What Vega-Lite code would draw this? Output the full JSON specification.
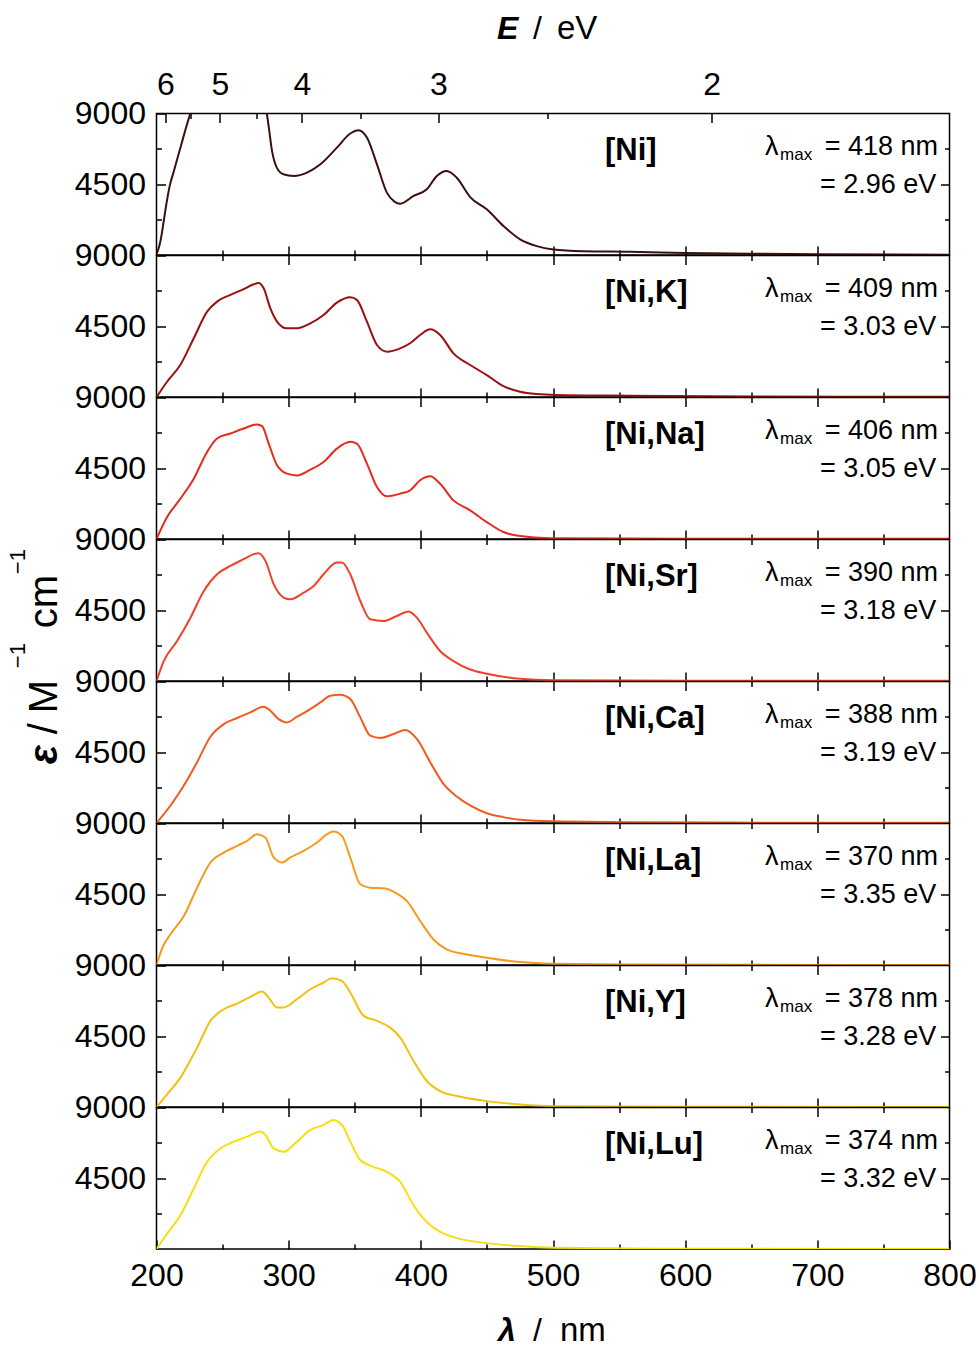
{
"$schema": "https://vega.github.io/schema/vega-lite/v6.json",
"background": "white",
"padding": {"left": 5.5, "top": 12.5, "right": 4, "bottom": 16},
"spacing": 0,
"bounds": "flush",
"config": {"font": "Liberation Sans", "view": {"stroke": "black", "strokeWidth": 1.5}, "text": {"color": "black", "font": "Liberation Sans"}, "line": {"interpolate": "monotone", "strokeWidth": 2, "clip": true}, "axis": {"labelFont": "Liberation Sans", "labelColor": "black", "labelFontSize": 32, "domain": false, "grid": false, "title": null, "tickColor": "black", "tickWidth": 1.5, "format": "d"}},
"datasets": {
"labels": [
{"s": "[Ni]", "lmax": "= 418 nm", "ev": "= 2.96 eV"},
{"s": "[Ni,K]", "lmax": "= 409 nm", "ev": "= 3.03 eV"},
{"s": "[Ni,Na]", "lmax": "= 406 nm", "ev": "= 3.05 eV"},
{"s": "[Ni,Sr]", "lmax": "= 390 nm", "ev": "= 3.18 eV"},
{"s": "[Ni,Ca]", "lmax": "= 388 nm", "ev": "= 3.19 eV"},
{"s": "[Ni,La]", "lmax": "= 370 nm", "ev": "= 3.35 eV"},
{"s": "[Ni,Y]", "lmax": "= 378 nm", "ev": "= 3.28 eV"},
{"s": "[Ni,Lu]", "lmax": "= 374 nm", "ev": "= 3.32 eV"}
],
"spectra": [
{"s":"[Ni]","wl":200,"eps":50},{"s":"[Ni]","wl":201.5,"eps":400},{"s":"[Ni]","wl":203,"eps":900},{"s":"[Ni]","wl":205,"eps":1900},{"s":"[Ni]","wl":207,"eps":3000},{"s":"[Ni]","wl":210,"eps":4400},{"s":"[Ni]","wl":213,"eps":5300},{"s":"[Ni]","wl":216,"eps":6200},{"s":"[Ni]","wl":219,"eps":7100},{"s":"[Ni]","wl":222,"eps":8000},{"s":"[Ni]","wl":225.5,"eps":9000},{"s":"[Ni]","wl":230,"eps":10500},{"s":"[Ni]","wl":240,"eps":12500},{"s":"[Ni]","wl":255,"eps":14000},{"s":"[Ni]","wl":270,"eps":13000},{"s":"[Ni]","wl":280,"eps":11000},{"s":"[Ni]","wl":283.5,"eps":9000},{"s":"[Ni]","wl":285,"eps":8100},{"s":"[Ni]","wl":287.4,"eps":6620},{"s":"[Ni]","wl":291,"eps":5560},{"s":"[Ni]","wl":296,"eps":5140},{"s":"[Ni]","wl":303.8,"eps":5030},{"s":"[Ni]","wl":313.9,"eps":5240},{"s":"[Ni]","wl":324,"eps":5770},{"s":"[Ni]","wl":336.5,"eps":6830},{"s":"[Ni]","wl":346.6,"eps":7730},{"s":"[Ni]","wl":352.9,"eps":7940},{"s":"[Ni]","wl":359.2,"eps":7470},{"s":"[Ni]","wl":366.8,"eps":5770},{"s":"[Ni]","wl":374.3,"eps":3970},{"s":"[Ni]","wl":380,"eps":3400},{"s":"[Ni]","wl":384.4,"eps":3270},{"s":"[Ni]","wl":394.5,"eps":3760},{"s":"[Ni]","wl":404.5,"eps":4180},{"s":"[Ni]","wl":412.1,"eps":5030},{"s":"[Ni]","wl":419.6,"eps":5350},{"s":"[Ni]","wl":427.2,"eps":4920},{"s":"[Ni]","wl":437.3,"eps":3690},{"s":"[Ni]","wl":449.9,"eps":2910},{"s":"[Ni]","wl":462.5,"eps":1850},{"s":"[Ni]","wl":475.1,"eps":1000},{"s":"[Ni]","wl":487.7,"eps":570},{"s":"[Ni]","wl":500.3,"eps":360},{"s":"[Ni]","wl":523,"eps":250},{"s":"[Ni]","wl":558,"eps":210},{"s":"[Ni]","wl":600,"eps":140},{"s":"[Ni]","wl":650,"eps":90},{"s":"[Ni]","wl":700,"eps":60},{"s":"[Ni]","wl":800,"eps":30},
{"s":"[Ni,K]","wl":200,"eps":0},{"s":"[Ni,K]","wl":208,"eps":976},{"s":"[Ni,K]","wl":218,"eps":2040},{"s":"[Ni,K]","wl":228.2,"eps":3740},{"s":"[Ni,K]","wl":238.3,"eps":5430},{"s":"[Ni,K]","wl":245.8,"eps":6070},{"s":"[Ni,K]","wl":255.9,"eps":6500},{"s":"[Ni,K]","wl":266,"eps":6860},{"s":"[Ni,K]","wl":273.6,"eps":7170},{"s":"[Ni,K]","wl":277.3,"eps":7260},{"s":"[Ni,K]","wl":281.1,"eps":6920},{"s":"[Ni,K]","wl":286.1,"eps":5650},{"s":"[Ni,K]","wl":291.2,"eps":4800},{"s":"[Ni,K]","wl":298.7,"eps":4370},{"s":"[Ni,K]","wl":306.3,"eps":4370},{"s":"[Ni,K]","wl":316.4,"eps":4690},{"s":"[Ni,K]","wl":326.4,"eps":5220},{"s":"[Ni,K]","wl":336.5,"eps":6010},{"s":"[Ni,K]","wl":346.6,"eps":6350},{"s":"[Ni,K]","wl":351.6,"eps":6180},{"s":"[Ni,K]","wl":359.2,"eps":4800},{"s":"[Ni,K]","wl":366.8,"eps":3310},{"s":"[Ni,K]","wl":374.3,"eps":2890},{"s":"[Ni,K]","wl":384.4,"eps":3100},{"s":"[Ni,K]","wl":391.9,"eps":3420},{"s":"[Ni,K]","wl":399.5,"eps":3950},{"s":"[Ni,K]","wl":407.1,"eps":4310},{"s":"[Ni,K]","wl":414.6,"eps":3950},{"s":"[Ni,K]","wl":424.7,"eps":2780},{"s":"[Ni,K]","wl":437.3,"eps":2040},{"s":"[Ni,K]","wl":449.9,"eps":1400},{"s":"[Ni,K]","wl":462.5,"eps":700},{"s":"[Ni,K]","wl":475.1,"eps":340},{"s":"[Ni,K]","wl":487.7,"eps":190},{"s":"[Ni,K]","wl":502.8,"eps":130},{"s":"[Ni,K]","wl":558,"eps":85},{"s":"[Ni,K]","wl":650,"eps":40},{"s":"[Ni,K]","wl":800,"eps":25},
{"s":"[Ni,Na]","wl":200,"eps":0},{"s":"[Ni,Na]","wl":208,"eps":1400},{"s":"[Ni,Na]","wl":218.1,"eps":2570},{"s":"[Ni,Na]","wl":228.2,"eps":3840},{"s":"[Ni,Na]","wl":238.3,"eps":5540},{"s":"[Ni,Na]","wl":245.8,"eps":6390},{"s":"[Ni,Na]","wl":255.9,"eps":6710},{"s":"[Ni,Na]","wl":266,"eps":7030},{"s":"[Ni,Na]","wl":276.1,"eps":7290},{"s":"[Ni,Na]","wl":279.9,"eps":7180},{"s":"[Ni,Na]","wl":284.9,"eps":6070},{"s":"[Ni,Na]","wl":291.2,"eps":4690},{"s":"[Ni,Na]","wl":298.7,"eps":4160},{"s":"[Ni,Na]","wl":306.3,"eps":4050},{"s":"[Ni,Na]","wl":316.4,"eps":4410},{"s":"[Ni,Na]","wl":326.4,"eps":4900},{"s":"[Ni,Na]","wl":336.5,"eps":5750},{"s":"[Ni,Na]","wl":346.6,"eps":6180},{"s":"[Ni,Na]","wl":351.6,"eps":6070},{"s":"[Ni,Na]","wl":359.2,"eps":4800},{"s":"[Ni,Na]","wl":366.8,"eps":3310},{"s":"[Ni,Na]","wl":374.3,"eps":2720},{"s":"[Ni,Na]","wl":384.4,"eps":2890},{"s":"[Ni,Na]","wl":391.9,"eps":3100},{"s":"[Ni,Na]","wl":399.5,"eps":3740},{"s":"[Ni,Na]","wl":407.1,"eps":3990},{"s":"[Ni,Na]","wl":414.6,"eps":3520},{"s":"[Ni,Na]","wl":424.7,"eps":2460},{"s":"[Ni,Na]","wl":437.3,"eps":1830},{"s":"[Ni,Na]","wl":449.9,"eps":1080},{"s":"[Ni,Na]","wl":462.5,"eps":450},{"s":"[Ni,Na]","wl":475.1,"eps":190},{"s":"[Ni,Na]","wl":497.7,"eps":60},{"s":"[Ni,Na]","wl":600,"eps":30},{"s":"[Ni,Na]","wl":800,"eps":20},
{"s":"[Ni,Sr]","wl":200,"eps":0},{"s":"[Ni,Sr]","wl":205.5,"eps":1270},{"s":"[Ni,Sr]","wl":215.6,"eps":2550},{"s":"[Ni,Sr]","wl":225.7,"eps":4030},{"s":"[Ni,Sr]","wl":235.8,"eps":5730},{"s":"[Ni,Sr]","wl":245.8,"eps":6790},{"s":"[Ni,Sr]","wl":255.9,"eps":7320},{"s":"[Ni,Sr]","wl":266,"eps":7750},{"s":"[Ni,Sr]","wl":273.6,"eps":8070},{"s":"[Ni,Sr]","wl":277.3,"eps":8130},{"s":"[Ni,Sr]","wl":282.4,"eps":7640},{"s":"[Ni,Sr]","wl":288.7,"eps":6160},{"s":"[Ni,Sr]","wl":296.2,"eps":5310},{"s":"[Ni,Sr]","wl":301.3,"eps":5200},{"s":"[Ni,Sr]","wl":311.3,"eps":5620},{"s":"[Ni,Sr]","wl":318.9,"eps":6050},{"s":"[Ni,Sr]","wl":326.4,"eps":6790},{"s":"[Ni,Sr]","wl":336.5,"eps":7540},{"s":"[Ni,Sr]","wl":340.3,"eps":7540},{"s":"[Ni,Sr]","wl":346.6,"eps":6790},{"s":"[Ni,Sr]","wl":354.2,"eps":5090},{"s":"[Ni,Sr]","wl":361.7,"eps":3930},{"s":"[Ni,Sr]","wl":371.8,"eps":3820},{"s":"[Ni,Sr]","wl":381.9,"eps":4140},{"s":"[Ni,Sr]","wl":390.7,"eps":4420},{"s":"[Ni,Sr]","wl":397,"eps":4030},{"s":"[Ni,Sr]","wl":404.5,"eps":3080},{"s":"[Ni,Sr]","wl":414.6,"eps":1910},{"s":"[Ni,Sr]","wl":424.7,"eps":1270},{"s":"[Ni,Sr]","wl":437.3,"eps":740},{"s":"[Ni,Sr]","wl":449.9,"eps":470},{"s":"[Ni,Sr]","wl":475.1,"eps":150},{"s":"[Ni,Sr]","wl":500.3,"eps":60},{"s":"[Ni,Sr]","wl":600,"eps":25},{"s":"[Ni,Sr]","wl":800,"eps":15},
{"s":"[Ni,Ca]","wl":200,"eps":0},{"s":"[Ni,Ca]","wl":210.6,"eps":1120},{"s":"[Ni,Ca]","wl":220.7,"eps":2390},{"s":"[Ni,Ca]","wl":230.7,"eps":3870},{"s":"[Ni,Ca]","wl":240.8,"eps":5490},{"s":"[Ni,Ca]","wl":250.9,"eps":6290},{"s":"[Ni,Ca]","wl":261,"eps":6680},{"s":"[Ni,Ca]","wl":271,"eps":7040},{"s":"[Ni,Ca]","wl":281.1,"eps":7390},{"s":"[Ni,Ca]","wl":286.1,"eps":7140},{"s":"[Ni,Ca]","wl":292.4,"eps":6610},{"s":"[Ni,Ca]","wl":298.7,"eps":6400},{"s":"[Ni,Ca]","wl":306.3,"eps":6760},{"s":"[Ni,Ca]","wl":316.4,"eps":7250},{"s":"[Ni,Ca]","wl":324,"eps":7670},{"s":"[Ni,Ca]","wl":331.5,"eps":8090},{"s":"[Ni,Ca]","wl":339,"eps":8160},{"s":"[Ni,Ca]","wl":346.6,"eps":7880},{"s":"[Ni,Ca]","wl":354.2,"eps":6720},{"s":"[Ni,Ca]","wl":361.7,"eps":5560},{"s":"[Ni,Ca]","wl":369.3,"eps":5410},{"s":"[Ni,Ca]","wl":379.3,"eps":5660},{"s":"[Ni,Ca]","wl":388.2,"eps":5920},{"s":"[Ni,Ca]","wl":397,"eps":5350},{"s":"[Ni,Ca]","wl":407.1,"eps":3870},{"s":"[Ni,Ca]","wl":417.1,"eps":2490},{"s":"[Ni,Ca]","wl":427.2,"eps":1690},{"s":"[Ni,Ca]","wl":437.3,"eps":1120},{"s":"[Ni,Ca]","wl":449.9,"eps":630},{"s":"[Ni,Ca]","wl":462.5,"eps":380},{"s":"[Ni,Ca]","wl":475.1,"eps":210},{"s":"[Ni,Ca]","wl":500.3,"eps":110},{"s":"[Ni,Ca]","wl":558,"eps":60},{"s":"[Ni,Ca]","wl":650,"eps":30},{"s":"[Ni,Ca]","wl":800,"eps":15},
{"s":"[Ni,La]","wl":200,"eps":0},{"s":"[Ni,La]","wl":205,"eps":1200},{"s":"[Ni,La]","wl":210.6,"eps":1960},{"s":"[Ni,La]","wl":220.7,"eps":3120},{"s":"[Ni,La]","wl":230.7,"eps":4920},{"s":"[Ni,La]","wl":240.8,"eps":6520},{"s":"[Ni,La]","wl":250.9,"eps":7150},{"s":"[Ni,La]","wl":261,"eps":7580},{"s":"[Ni,La]","wl":268.5,"eps":7900},{"s":"[Ni,La]","wl":276.1,"eps":8320},{"s":"[Ni,La]","wl":282.4,"eps":8110},{"s":"[Ni,La]","wl":288.7,"eps":6840},{"s":"[Ni,La]","wl":295,"eps":6520},{"s":"[Ni,La]","wl":301.3,"eps":6840},{"s":"[Ni,La]","wl":311.3,"eps":7260},{"s":"[Ni,La]","wl":321.4,"eps":7790},{"s":"[Ni,La]","wl":329,"eps":8320},{"s":"[Ni,La]","wl":334,"eps":8490},{"s":"[Ni,La]","wl":340.3,"eps":8210},{"s":"[Ni,La]","wl":346.6,"eps":6840},{"s":"[Ni,La]","wl":354.2,"eps":5140},{"s":"[Ni,La]","wl":361.7,"eps":4920},{"s":"[Ni,La]","wl":371.8,"eps":4880},{"s":"[Ni,La]","wl":381.9,"eps":4540},{"s":"[Ni,La]","wl":389.4,"eps":4080},{"s":"[Ni,La]","wl":399.5,"eps":2800},{"s":"[Ni,La]","wl":409.6,"eps":1630},{"s":"[Ni,La]","wl":419.6,"eps":1000},{"s":"[Ni,La]","wl":432.2,"eps":720},{"s":"[Ni,La]","wl":449.9,"eps":470},{"s":"[Ni,La]","wl":475.1,"eps":190},{"s":"[Ni,La]","wl":500.3,"eps":85},{"s":"[Ni,La]","wl":558,"eps":40},{"s":"[Ni,La]","wl":650,"eps":20},{"s":"[Ni,La]","wl":800,"eps":10},
{"s":"[Ni,Y]","wl":200,"eps":0},{"s":"[Ni,Y]","wl":208,"eps":810},{"s":"[Ni,Y]","wl":218.1,"eps":1870},{"s":"[Ni,Y]","wl":230.7,"eps":3780},{"s":"[Ni,Y]","wl":240.8,"eps":5480},{"s":"[Ni,Y]","wl":250.9,"eps":6220},{"s":"[Ni,Y]","wl":261,"eps":6580},{"s":"[Ni,Y]","wl":271,"eps":7000},{"s":"[Ni,Y]","wl":279.8,"eps":7340},{"s":"[Ni,Y]","wl":284.9,"eps":6960},{"s":"[Ni,Y]","wl":291.2,"eps":6330},{"s":"[Ni,Y]","wl":296.2,"eps":6330},{"s":"[Ni,Y]","wl":306.3,"eps":6860},{"s":"[Ni,Y]","wl":316.4,"eps":7490},{"s":"[Ni,Y]","wl":326.4,"eps":7920},{"s":"[Ni,Y]","wl":332.7,"eps":8190},{"s":"[Ni,Y]","wl":340.3,"eps":8020},{"s":"[Ni,Y]","wl":346.6,"eps":7280},{"s":"[Ni,Y]","wl":356.7,"eps":5800},{"s":"[Ni,Y]","wl":366.8,"eps":5480},{"s":"[Ni,Y]","wl":376.8,"eps":5050},{"s":"[Ni,Y]","wl":384.4,"eps":4420},{"s":"[Ni,Y]","wl":394.5,"eps":2930},{"s":"[Ni,Y]","wl":404.5,"eps":1660},{"s":"[Ni,Y]","wl":414.6,"eps":1020},{"s":"[Ni,Y]","wl":427.2,"eps":700},{"s":"[Ni,Y]","wl":449.9,"eps":380},{"s":"[Ni,Y]","wl":475.1,"eps":170},{"s":"[Ni,Y]","wl":500.3,"eps":60},{"s":"[Ni,Y]","wl":600,"eps":25},{"s":"[Ni,Y]","wl":800,"eps":10},
{"s":"[Ni,Lu]","wl":200,"eps":0},{"s":"[Ni,Lu]","wl":208,"eps":980},{"s":"[Ni,Lu]","wl":218.1,"eps":2150},{"s":"[Ni,Lu]","wl":228.2,"eps":3850},{"s":"[Ni,Lu]","wl":238.3,"eps":5550},{"s":"[Ni,Lu]","wl":248.4,"eps":6400},{"s":"[Ni,Lu]","wl":258.4,"eps":6830},{"s":"[Ni,Lu]","wl":268.5,"eps":7150},{"s":"[Ni,Lu]","wl":278.6,"eps":7470},{"s":"[Ni,Lu]","wl":282.4,"eps":7250},{"s":"[Ni,Lu]","wl":288.7,"eps":6400},{"s":"[Ni,Lu]","wl":296.2,"eps":6190},{"s":"[Ni,Lu]","wl":306.3,"eps":6830},{"s":"[Ni,Lu]","wl":316.4,"eps":7580},{"s":"[Ni,Lu]","wl":326.4,"eps":7890},{"s":"[Ni,Lu]","wl":333.5,"eps":8210},{"s":"[Ni,Lu]","wl":340.3,"eps":7890},{"s":"[Ni,Lu]","wl":346.6,"eps":6830},{"s":"[Ni,Lu]","wl":354.2,"eps":5660},{"s":"[Ni,Lu]","wl":364.2,"eps":5230},{"s":"[Ni,Lu]","wl":374.3,"eps":4910},{"s":"[Ni,Lu]","wl":384.4,"eps":4270},{"s":"[Ni,Lu]","wl":394.5,"eps":2790},{"s":"[Ni,Lu]","wl":404.5,"eps":1720},{"s":"[Ni,Lu]","wl":414.6,"eps":1090},{"s":"[Ni,Lu]","wl":427.2,"eps":700},{"s":"[Ni,Lu]","wl":449.9,"eps":380},{"s":"[Ni,Lu]","wl":475.1,"eps":190},{"s":"[Ni,Lu]","wl":500.3,"eps":85},{"s":"[Ni,Lu]","wl":600,"eps":25},{"s":"[Ni,Lu]","wl":800,"eps":10}
]
},
"vconcat": [
{"width": 793, "height": 141.6, "resolve": {"axis": {"x": "independent", "y": "independent"}}, "layer": [
 {"data": {"name": "spectra"}, "transform": [{"filter": {"field": "s", "equal": "[Ni]"}}], "mark": {"type": "line", "clip": true, "color": "#3d0f0f"},
  "encoding": {"x": {"field": "wl", "type": "quantitative", "scale": {"domain": [200, 800], "nice": false}, "axis": {"orient": "bottom", "values": [300,400,500,600,700], "tickSize": -9, "labels": false}},
   "y": {"field": "eps", "type": "quantitative", "scale": {"domain": [0, 9000], "nice": false}, "axis": {"orient": "left", "values": [4500, 9000], "tickSize": -9, "labelPadding": 20, "labelFlush": false, "labelOverlap": false}}}},
 {"data": {"name": "labels"}, "transform": [{"filter": {"field": "s", "equal": "[Ni]"}}], "mark": {"type": "text", "align": "left", "baseline": "alphabetic", "fontSize": 31, "fontWeight": "bold"},
  "encoding": {"x": {"datum": 539.3, "type": "quantitative", "axis": {"orient": "bottom", "values": [250,350,450,550,650,750], "tickSize": -5, "labels": false}},
   "y": {"datum": 6013, "type": "quantitative", "axis": {"orient": "left", "values": [2250, 6750], "tickSize": -5, "labels": false}}, "text": {"field": "s"}}},
 {"data": {"name": "labels"}, "transform": [{"filter": {"field": "s", "equal": "[Ni]"}}], "mark": {"type": "text", "align": "right", "baseline": "alphabetic", "fontSize": 27},
  "encoding": {"x": {"datum": 791.3, "type": "quantitative", "axis": {"orient": "top", "values": [206.667, 248, 310, 413.333, 620], "tickSize": -9, "labelExpr": "format(1240/datum.value, '.0f')", "labelPadding": 21, "labelFlush": false, "labelOverlap": false}},
   "y": {"datum": 6394, "type": "quantitative", "axis": {"orient": "right", "values": [4500], "tickSize": -9, "labels": false}}, "text": {"field": "lmax"}}},
 {"data": {"name": "labels"}, "transform": [{"filter": {"field": "s", "equal": "[Ni]"}}], "mark": {"type": "text", "align": "right", "baseline": "alphabetic", "fontSize": 27},
  "encoding": {"x": {"datum": 790, "type": "quantitative", "axis": {"orient": "top", "values": [225.455, 275.556, 354.286, 496], "tickSize": -5, "labels": false}},
   "y": {"datum": 3947, "type": "quantitative", "axis": {"orient": "right", "values": [2250, 6750], "tickSize": -5, "labels": false}}, "text": {"field": "ev"}}},
 {"data": {"name": "labels"}, "transform": [{"filter": {"field": "s", "equal": "[Ni]"}}], "mark": {"type": "text", "text": "λ", "align": "left", "baseline": "alphabetic", "fontSize": 27},
  "encoding": {"x": {"datum": 660.4, "type": "quantitative", "axis": null}, "y": {"datum": 6394, "type": "quantitative", "axis": null}}},
 {"data": {"name": "labels"}, "transform": [{"filter": {"field": "s", "equal": "[Ni]"}}], "mark": {"type": "text", "text": "max", "align": "left", "baseline": "alphabetic", "fontSize": 17},
  "encoding": {"x": {"datum": 671.8, "type": "quantitative", "axis": null}, "y": {"datum": 6013, "type": "quantitative", "axis": null}}},
 {"data": {"name": "labels"}, "transform": [{"filter": {"field": "s", "equal": "[Ni]"}}], "mark": {"type": "text", "text": "E", "align": "left", "baseline": "alphabetic", "fontSize": 32, "fontWeight": "bold", "fontStyle": "italic"},
  "encoding": {"x": {"datum": 457.6, "type": "quantitative", "axis": null}, "y": {"datum": 13716, "type": "quantitative", "axis": null}}},
 {"data": {"name": "labels"}, "transform": [{"filter": {"field": "s", "equal": "[Ni]"}}], "mark": {"type": "text", "text": "/", "align": "left", "baseline": "alphabetic", "fontSize": 32},
  "encoding": {"x": {"datum": 484.9, "type": "quantitative", "axis": null}, "y": {"datum": 13716, "type": "quantitative", "axis": null}}},
 {"data": {"name": "labels"}, "transform": [{"filter": {"field": "s", "equal": "[Ni]"}}], "mark": {"type": "text", "text": "eV", "align": "left", "baseline": "alphabetic", "fontSize": 33},
  "encoding": {"x": {"datum": 503.0, "type": "quantitative", "axis": null}, "y": {"datum": 13716, "type": "quantitative", "axis": null}}}
]},
{"width": 793, "height": 141.6, "resolve": {"axis": {"x": "independent", "y": "independent"}}, "layer": [
 {"data": {"name": "spectra"}, "transform": [{"filter": {"field": "s", "equal": "[Ni,K]"}}], "mark": {"type": "line", "clip": true, "color": "#9a0f0f"},
  "encoding": {"x": {"field": "wl", "type": "quantitative", "scale": {"domain": [200, 800], "nice": false}, "axis": {"orient": "bottom", "values": [300,400,500,600,700], "tickSize": -9, "labels": false}},
   "y": {"field": "eps", "type": "quantitative", "scale": {"domain": [0, 9000], "nice": false}, "axis": {"orient": "left", "values": [4500, 9000], "tickSize": -9, "labelPadding": 20, "labelFlush": false, "labelOverlap": false}}}},
 {"data": {"name": "labels"}, "transform": [{"filter": {"field": "s", "equal": "[Ni,K]"}}], "mark": {"type": "text", "align": "left", "baseline": "alphabetic", "fontSize": 31, "fontWeight": "bold"},
  "encoding": {"x": {"datum": 539.3, "type": "quantitative", "axis": {"orient": "bottom", "values": [250,350,450,550,650,750], "tickSize": -5, "labels": false}},
   "y": {"datum": 6013, "type": "quantitative", "axis": {"orient": "left", "values": [2250, 6750], "tickSize": -5, "labels": false}}, "text": {"field": "s"}}},
 {"data": {"name": "labels"}, "transform": [{"filter": {"field": "s", "equal": "[Ni,K]"}}], "mark": {"type": "text", "align": "right", "baseline": "alphabetic", "fontSize": 27},
  "encoding": {"x": {"datum": 791.3, "type": "quantitative", "axis": {"orient": "top", "values": [300,400,500,600,700], "tickSize": -9, "labels": false}},
   "y": {"datum": 6394, "type": "quantitative", "axis": {"orient": "right", "values": [4500], "tickSize": -9, "labels": false}}, "text": {"field": "lmax"}}},
 {"data": {"name": "labels"}, "transform": [{"filter": {"field": "s", "equal": "[Ni,K]"}}], "mark": {"type": "text", "align": "right", "baseline": "alphabetic", "fontSize": 27},
  "encoding": {"x": {"datum": 790, "type": "quantitative", "axis": {"orient": "top", "values": [250,350,450,550,650,750], "tickSize": -5, "labels": false}},
   "y": {"datum": 3947, "type": "quantitative", "axis": {"orient": "right", "values": [2250, 6750], "tickSize": -5, "labels": false}}, "text": {"field": "ev"}}},
 {"data": {"name": "labels"}, "transform": [{"filter": {"field": "s", "equal": "[Ni,K]"}}], "mark": {"type": "text", "text": "λ", "align": "left", "baseline": "alphabetic", "fontSize": 27},
  "encoding": {"x": {"datum": 660.4, "type": "quantitative", "axis": null}, "y": {"datum": 6394, "type": "quantitative", "axis": null}}},
 {"data": {"name": "labels"}, "transform": [{"filter": {"field": "s", "equal": "[Ni,K]"}}], "mark": {"type": "text", "text": "max", "align": "left", "baseline": "alphabetic", "fontSize": 17},
  "encoding": {"x": {"datum": 671.8, "type": "quantitative", "axis": null}, "y": {"datum": 6013, "type": "quantitative", "axis": null}}}
]},
{"width": 793, "height": 141.6, "resolve": {"axis": {"x": "independent", "y": "independent"}}, "layer": [
 {"data": {"name": "spectra"}, "transform": [{"filter": {"field": "s", "equal": "[Ni,Na]"}}], "mark": {"type": "line", "clip": true, "color": "#e62a1c"},
  "encoding": {"x": {"field": "wl", "type": "quantitative", "scale": {"domain": [200, 800], "nice": false}, "axis": {"orient": "bottom", "values": [300,400,500,600,700], "tickSize": -9, "labels": false}},
   "y": {"field": "eps", "type": "quantitative", "scale": {"domain": [0, 9000], "nice": false}, "axis": {"orient": "left", "values": [4500, 9000], "tickSize": -9, "labelPadding": 20, "labelFlush": false, "labelOverlap": false}}}},
 {"data": {"name": "labels"}, "transform": [{"filter": {"field": "s", "equal": "[Ni,Na]"}}], "mark": {"type": "text", "align": "left", "baseline": "alphabetic", "fontSize": 31, "fontWeight": "bold"},
  "encoding": {"x": {"datum": 539.3, "type": "quantitative", "axis": {"orient": "bottom", "values": [250,350,450,550,650,750], "tickSize": -5, "labels": false}},
   "y": {"datum": 6013, "type": "quantitative", "axis": {"orient": "left", "values": [2250, 6750], "tickSize": -5, "labels": false}}, "text": {"field": "s"}}},
 {"data": {"name": "labels"}, "transform": [{"filter": {"field": "s", "equal": "[Ni,Na]"}}], "mark": {"type": "text", "align": "right", "baseline": "alphabetic", "fontSize": 27},
  "encoding": {"x": {"datum": 791.3, "type": "quantitative", "axis": {"orient": "top", "values": [300,400,500,600,700], "tickSize": -9, "labels": false}},
   "y": {"datum": 6394, "type": "quantitative", "axis": {"orient": "right", "values": [4500], "tickSize": -9, "labels": false}}, "text": {"field": "lmax"}}},
 {"data": {"name": "labels"}, "transform": [{"filter": {"field": "s", "equal": "[Ni,Na]"}}], "mark": {"type": "text", "align": "right", "baseline": "alphabetic", "fontSize": 27},
  "encoding": {"x": {"datum": 790, "type": "quantitative", "axis": {"orient": "top", "values": [250,350,450,550,650,750], "tickSize": -5, "labels": false}},
   "y": {"datum": 3947, "type": "quantitative", "axis": {"orient": "right", "values": [2250, 6750], "tickSize": -5, "labels": false}}, "text": {"field": "ev"}}},
 {"data": {"name": "labels"}, "transform": [{"filter": {"field": "s", "equal": "[Ni,Na]"}}], "mark": {"type": "text", "text": "λ", "align": "left", "baseline": "alphabetic", "fontSize": 27},
  "encoding": {"x": {"datum": 660.4, "type": "quantitative", "axis": null}, "y": {"datum": 6394, "type": "quantitative", "axis": null}}},
 {"data": {"name": "labels"}, "transform": [{"filter": {"field": "s", "equal": "[Ni,Na]"}}], "mark": {"type": "text", "text": "max", "align": "left", "baseline": "alphabetic", "fontSize": 17},
  "encoding": {"x": {"datum": 671.8, "type": "quantitative", "axis": null}, "y": {"datum": 6013, "type": "quantitative", "axis": null}}}
]},
{"width": 793, "height": 141.6, "resolve": {"axis": {"x": "independent", "y": "independent"}}, "layer": [
 {"data": {"name": "spectra"}, "transform": [{"filter": {"field": "s", "equal": "[Ni,Sr]"}}], "mark": {"type": "line", "clip": true, "color": "#f43f2a"},
  "encoding": {"x": {"field": "wl", "type": "quantitative", "scale": {"domain": [200, 800], "nice": false}, "axis": {"orient": "bottom", "values": [300,400,500,600,700], "tickSize": -9, "labels": false}},
   "y": {"field": "eps", "type": "quantitative", "scale": {"domain": [0, 9000], "nice": false}, "axis": {"orient": "left", "values": [4500, 9000], "tickSize": -9, "labelPadding": 20, "labelFlush": false, "labelOverlap": false}}}},
 {"data": {"name": "labels"}, "transform": [{"filter": {"field": "s", "equal": "[Ni,Sr]"}}], "mark": {"type": "text", "align": "left", "baseline": "alphabetic", "fontSize": 31, "fontWeight": "bold"},
  "encoding": {"x": {"datum": 539.3, "type": "quantitative", "axis": {"orient": "bottom", "values": [250,350,450,550,650,750], "tickSize": -5, "labels": false}},
   "y": {"datum": 6013, "type": "quantitative", "axis": {"orient": "left", "values": [2250, 6750], "tickSize": -5, "labels": false}}, "text": {"field": "s"}}},
 {"data": {"name": "labels"}, "transform": [{"filter": {"field": "s", "equal": "[Ni,Sr]"}}], "mark": {"type": "text", "align": "right", "baseline": "alphabetic", "fontSize": 27},
  "encoding": {"x": {"datum": 791.3, "type": "quantitative", "axis": {"orient": "top", "values": [300,400,500,600,700], "tickSize": -9, "labels": false}},
   "y": {"datum": 6394, "type": "quantitative", "axis": {"orient": "right", "values": [4500], "tickSize": -9, "labels": false}}, "text": {"field": "lmax"}}},
 {"data": {"name": "labels"}, "transform": [{"filter": {"field": "s", "equal": "[Ni,Sr]"}}], "mark": {"type": "text", "align": "right", "baseline": "alphabetic", "fontSize": 27},
  "encoding": {"x": {"datum": 790, "type": "quantitative", "axis": {"orient": "top", "values": [250,350,450,550,650,750], "tickSize": -5, "labels": false}},
   "y": {"datum": 3947, "type": "quantitative", "axis": {"orient": "right", "values": [2250, 6750], "tickSize": -5, "labels": false}}, "text": {"field": "ev"}}},
 {"data": {"name": "labels"}, "transform": [{"filter": {"field": "s", "equal": "[Ni,Sr]"}}], "mark": {"type": "text", "text": "λ", "align": "left", "baseline": "alphabetic", "fontSize": 27},
  "encoding": {"x": {"datum": 660.4, "type": "quantitative", "axis": null}, "y": {"datum": 6394, "type": "quantitative", "axis": null}}},
 {"data": {"name": "labels"}, "transform": [{"filter": {"field": "s", "equal": "[Ni,Sr]"}}], "mark": {"type": "text", "text": "max", "align": "left", "baseline": "alphabetic", "fontSize": 17},
  "encoding": {"x": {"datum": 671.8, "type": "quantitative", "axis": null}, "y": {"datum": 6013, "type": "quantitative", "axis": null}}}
]},
{"width": 793, "height": 141.6, "resolve": {"axis": {"x": "independent", "y": "independent"}}, "layer": [
 {"data": {"name": "spectra"}, "transform": [{"filter": {"field": "s", "equal": "[Ni,Ca]"}}], "mark": {"type": "line", "clip": true, "color": "#f45a1e"},
  "encoding": {"x": {"field": "wl", "type": "quantitative", "scale": {"domain": [200, 800], "nice": false}, "axis": {"orient": "bottom", "values": [300,400,500,600,700], "tickSize": -9, "labels": false}},
   "y": {"field": "eps", "type": "quantitative", "scale": {"domain": [0, 9000], "nice": false}, "axis": {"orient": "left", "values": [4500, 9000], "tickSize": -9, "labelPadding": 20, "labelFlush": false, "labelOverlap": false}}}},
 {"data": {"name": "labels"}, "transform": [{"filter": {"field": "s", "equal": "[Ni,Ca]"}}], "mark": {"type": "text", "align": "left", "baseline": "alphabetic", "fontSize": 31, "fontWeight": "bold"},
  "encoding": {"x": {"datum": 539.3, "type": "quantitative", "axis": {"orient": "bottom", "values": [250,350,450,550,650,750], "tickSize": -5, "labels": false}},
   "y": {"datum": 6013, "type": "quantitative", "axis": {"orient": "left", "values": [2250, 6750], "tickSize": -5, "labels": false}}, "text": {"field": "s"}}},
 {"data": {"name": "labels"}, "transform": [{"filter": {"field": "s", "equal": "[Ni,Ca]"}}], "mark": {"type": "text", "align": "right", "baseline": "alphabetic", "fontSize": 27},
  "encoding": {"x": {"datum": 791.3, "type": "quantitative", "axis": {"orient": "top", "values": [300,400,500,600,700], "tickSize": -9, "labels": false}},
   "y": {"datum": 6394, "type": "quantitative", "axis": {"orient": "right", "values": [4500], "tickSize": -9, "labels": false}}, "text": {"field": "lmax"}}},
 {"data": {"name": "labels"}, "transform": [{"filter": {"field": "s", "equal": "[Ni,Ca]"}}], "mark": {"type": "text", "align": "right", "baseline": "alphabetic", "fontSize": 27},
  "encoding": {"x": {"datum": 790, "type": "quantitative", "axis": {"orient": "top", "values": [250,350,450,550,650,750], "tickSize": -5, "labels": false}},
   "y": {"datum": 3947, "type": "quantitative", "axis": {"orient": "right", "values": [2250, 6750], "tickSize": -5, "labels": false}}, "text": {"field": "ev"}}},
 {"data": {"name": "labels"}, "transform": [{"filter": {"field": "s", "equal": "[Ni,Ca]"}}], "mark": {"type": "text", "text": "λ", "align": "left", "baseline": "alphabetic", "fontSize": 27},
  "encoding": {"x": {"datum": 660.4, "type": "quantitative", "axis": null}, "y": {"datum": 6394, "type": "quantitative", "axis": null}}},
 {"data": {"name": "labels"}, "transform": [{"filter": {"field": "s", "equal": "[Ni,Ca]"}}], "mark": {"type": "text", "text": "max", "align": "left", "baseline": "alphabetic", "fontSize": 17},
  "encoding": {"x": {"datum": 671.8, "type": "quantitative", "axis": null}, "y": {"datum": 6013, "type": "quantitative", "axis": null}}},
 {"data": {"name": "labels"}, "transform": [{"filter": {"field": "s", "equal": "[Ni,Ca]"}}], "mark": {"type": "text", "text": "ε", "angle": 270, "align": "left", "baseline": "alphabetic", "fontSize": 40, "fontWeight": "bold", "fontStyle": "italic"},
  "encoding": {"x": {"datum": 124.7, "type": "quantitative", "axis": null}, "y": {"datum": 3744, "type": "quantitative", "axis": null}}},
 {"data": {"name": "labels"}, "transform": [{"filter": {"field": "s", "equal": "[Ni,Ca]"}}], "mark": {"type": "text", "text": "/", "angle": 270, "align": "left", "baseline": "alphabetic", "fontSize": 40},
  "encoding": {"x": {"datum": 124.7, "type": "quantitative", "axis": null}, "y": {"datum": 5650, "type": "quantitative", "axis": null}}},
 {"data": {"name": "labels"}, "transform": [{"filter": {"field": "s", "equal": "[Ni,Ca]"}}], "mark": {"type": "text", "text": "M", "angle": 270, "align": "left", "baseline": "alphabetic", "fontSize": 40},
  "encoding": {"x": {"datum": 124.7, "type": "quantitative", "axis": null}, "y": {"datum": 6985, "type": "quantitative", "axis": null}}},
 {"data": {"name": "labels"}, "transform": [{"filter": {"field": "s", "equal": "[Ni,Ca]"}}], "mark": {"type": "text", "text": "−1", "angle": 270, "align": "left", "baseline": "alphabetic", "fontSize": 22},
  "encoding": {"x": {"datum": 100.5, "type": "quantitative", "axis": null}, "y": {"datum": 9845, "type": "quantitative", "axis": null}}},
 {"data": {"name": "labels"}, "transform": [{"filter": {"field": "s", "equal": "[Ni,Ca]"}}], "mark": {"type": "text", "text": "cm", "angle": 270, "align": "left", "baseline": "alphabetic", "fontSize": 40},
  "encoding": {"x": {"datum": 124.7, "type": "quantitative", "axis": null}, "y": {"datum": 12388, "type": "quantitative", "axis": null}}},
 {"data": {"name": "labels"}, "transform": [{"filter": {"field": "s", "equal": "[Ni,Ca]"}}], "mark": {"type": "text", "text": "−1", "angle": 270, "align": "left", "baseline": "alphabetic", "fontSize": 22},
  "encoding": {"x": {"datum": 100.5, "type": "quantitative", "axis": null}, "y": {"datum": 15820, "type": "quantitative", "axis": null}}}
]},
{"width": 793, "height": 141.6, "resolve": {"axis": {"x": "independent", "y": "independent"}}, "layer": [
 {"data": {"name": "spectra"}, "transform": [{"filter": {"field": "s", "equal": "[Ni,La]"}}], "mark": {"type": "line", "clip": true, "color": "#f59a1c"},
  "encoding": {"x": {"field": "wl", "type": "quantitative", "scale": {"domain": [200, 800], "nice": false}, "axis": {"orient": "bottom", "values": [300,400,500,600,700], "tickSize": -9, "labels": false}},
   "y": {"field": "eps", "type": "quantitative", "scale": {"domain": [0, 9000], "nice": false}, "axis": {"orient": "left", "values": [4500, 9000], "tickSize": -9, "labelPadding": 20, "labelFlush": false, "labelOverlap": false}}}},
 {"data": {"name": "labels"}, "transform": [{"filter": {"field": "s", "equal": "[Ni,La]"}}], "mark": {"type": "text", "align": "left", "baseline": "alphabetic", "fontSize": 31, "fontWeight": "bold"},
  "encoding": {"x": {"datum": 539.3, "type": "quantitative", "axis": {"orient": "bottom", "values": [250,350,450,550,650,750], "tickSize": -5, "labels": false}},
   "y": {"datum": 6013, "type": "quantitative", "axis": {"orient": "left", "values": [2250, 6750], "tickSize": -5, "labels": false}}, "text": {"field": "s"}}},
 {"data": {"name": "labels"}, "transform": [{"filter": {"field": "s", "equal": "[Ni,La]"}}], "mark": {"type": "text", "align": "right", "baseline": "alphabetic", "fontSize": 27},
  "encoding": {"x": {"datum": 791.3, "type": "quantitative", "axis": {"orient": "top", "values": [300,400,500,600,700], "tickSize": -9, "labels": false}},
   "y": {"datum": 6394, "type": "quantitative", "axis": {"orient": "right", "values": [4500], "tickSize": -9, "labels": false}}, "text": {"field": "lmax"}}},
 {"data": {"name": "labels"}, "transform": [{"filter": {"field": "s", "equal": "[Ni,La]"}}], "mark": {"type": "text", "align": "right", "baseline": "alphabetic", "fontSize": 27},
  "encoding": {"x": {"datum": 790, "type": "quantitative", "axis": {"orient": "top", "values": [250,350,450,550,650,750], "tickSize": -5, "labels": false}},
   "y": {"datum": 3947, "type": "quantitative", "axis": {"orient": "right", "values": [2250, 6750], "tickSize": -5, "labels": false}}, "text": {"field": "ev"}}},
 {"data": {"name": "labels"}, "transform": [{"filter": {"field": "s", "equal": "[Ni,La]"}}], "mark": {"type": "text", "text": "λ", "align": "left", "baseline": "alphabetic", "fontSize": 27},
  "encoding": {"x": {"datum": 660.4, "type": "quantitative", "axis": null}, "y": {"datum": 6394, "type": "quantitative", "axis": null}}},
 {"data": {"name": "labels"}, "transform": [{"filter": {"field": "s", "equal": "[Ni,La]"}}], "mark": {"type": "text", "text": "max", "align": "left", "baseline": "alphabetic", "fontSize": 17},
  "encoding": {"x": {"datum": 671.8, "type": "quantitative", "axis": null}, "y": {"datum": 6013, "type": "quantitative", "axis": null}}}
]},
{"width": 793, "height": 141.6, "resolve": {"axis": {"x": "independent", "y": "independent"}}, "layer": [
 {"data": {"name": "spectra"}, "transform": [{"filter": {"field": "s", "equal": "[Ni,Y]"}}], "mark": {"type": "line", "clip": true, "color": "#f2c012"},
  "encoding": {"x": {"field": "wl", "type": "quantitative", "scale": {"domain": [200, 800], "nice": false}, "axis": {"orient": "bottom", "values": [300,400,500,600,700], "tickSize": -9, "labels": false}},
   "y": {"field": "eps", "type": "quantitative", "scale": {"domain": [0, 9000], "nice": false}, "axis": {"orient": "left", "values": [4500, 9000], "tickSize": -9, "labelPadding": 20, "labelFlush": false, "labelOverlap": false}}}},
 {"data": {"name": "labels"}, "transform": [{"filter": {"field": "s", "equal": "[Ni,Y]"}}], "mark": {"type": "text", "align": "left", "baseline": "alphabetic", "fontSize": 31, "fontWeight": "bold"},
  "encoding": {"x": {"datum": 539.3, "type": "quantitative", "axis": {"orient": "bottom", "values": [250,350,450,550,650,750], "tickSize": -5, "labels": false}},
   "y": {"datum": 6013, "type": "quantitative", "axis": {"orient": "left", "values": [2250, 6750], "tickSize": -5, "labels": false}}, "text": {"field": "s"}}},
 {"data": {"name": "labels"}, "transform": [{"filter": {"field": "s", "equal": "[Ni,Y]"}}], "mark": {"type": "text", "align": "right", "baseline": "alphabetic", "fontSize": 27},
  "encoding": {"x": {"datum": 791.3, "type": "quantitative", "axis": {"orient": "top", "values": [300,400,500,600,700], "tickSize": -9, "labels": false}},
   "y": {"datum": 6394, "type": "quantitative", "axis": {"orient": "right", "values": [4500], "tickSize": -9, "labels": false}}, "text": {"field": "lmax"}}},
 {"data": {"name": "labels"}, "transform": [{"filter": {"field": "s", "equal": "[Ni,Y]"}}], "mark": {"type": "text", "align": "right", "baseline": "alphabetic", "fontSize": 27},
  "encoding": {"x": {"datum": 790, "type": "quantitative", "axis": {"orient": "top", "values": [250,350,450,550,650,750], "tickSize": -5, "labels": false}},
   "y": {"datum": 3947, "type": "quantitative", "axis": {"orient": "right", "values": [2250, 6750], "tickSize": -5, "labels": false}}, "text": {"field": "ev"}}},
 {"data": {"name": "labels"}, "transform": [{"filter": {"field": "s", "equal": "[Ni,Y]"}}], "mark": {"type": "text", "text": "λ", "align": "left", "baseline": "alphabetic", "fontSize": 27},
  "encoding": {"x": {"datum": 660.4, "type": "quantitative", "axis": null}, "y": {"datum": 6394, "type": "quantitative", "axis": null}}},
 {"data": {"name": "labels"}, "transform": [{"filter": {"field": "s", "equal": "[Ni,Y]"}}], "mark": {"type": "text", "text": "max", "align": "left", "baseline": "alphabetic", "fontSize": 17},
  "encoding": {"x": {"datum": 671.8, "type": "quantitative", "axis": null}, "y": {"datum": 6013, "type": "quantitative", "axis": null}}}
]},
{"width": 793, "height": 141.6, "resolve": {"axis": {"x": "independent", "y": "independent"}}, "layer": [
 {"data": {"name": "spectra"}, "transform": [{"filter": {"field": "s", "equal": "[Ni,Lu]"}}], "mark": {"type": "line", "clip": true, "color": "#f5e010"},
  "encoding": {"x": {"field": "wl", "type": "quantitative", "scale": {"domain": [200, 800], "nice": false}, "axis": {"orient": "bottom", "values": [200,300,400,500,600,700,800], "tickSize": -9, "labelPadding": 20, "labelFlush": false, "labelOverlap": false}},
   "y": {"field": "eps", "type": "quantitative", "scale": {"domain": [0, 9000], "nice": false}, "axis": {"orient": "left", "values": [4500, 9000], "tickSize": -9, "labelPadding": 20, "labelFlush": false, "labelOverlap": false}}}},
 {"data": {"name": "labels"}, "transform": [{"filter": {"field": "s", "equal": "[Ni,Lu]"}}], "mark": {"type": "text", "align": "left", "baseline": "alphabetic", "fontSize": 31, "fontWeight": "bold"},
  "encoding": {"x": {"datum": 539.3, "type": "quantitative", "axis": {"orient": "bottom", "values": [250,350,450,550,650,750], "tickSize": -5, "labels": false}},
   "y": {"datum": 6013, "type": "quantitative", "axis": {"orient": "left", "values": [2250, 6750], "tickSize": -5, "labels": false}}, "text": {"field": "s"}}},
 {"data": {"name": "labels"}, "transform": [{"filter": {"field": "s", "equal": "[Ni,Lu]"}}], "mark": {"type": "text", "align": "right", "baseline": "alphabetic", "fontSize": 27},
  "encoding": {"x": {"datum": 791.3, "type": "quantitative", "axis": {"orient": "top", "values": [300,400,500,600,700], "tickSize": -9, "labels": false}},
   "y": {"datum": 6394, "type": "quantitative", "axis": {"orient": "right", "values": [4500], "tickSize": -9, "labels": false}}, "text": {"field": "lmax"}}},
 {"data": {"name": "labels"}, "transform": [{"filter": {"field": "s", "equal": "[Ni,Lu]"}}], "mark": {"type": "text", "align": "right", "baseline": "alphabetic", "fontSize": 27},
  "encoding": {"x": {"datum": 790, "type": "quantitative", "axis": {"orient": "top", "values": [250,350,450,550,650,750], "tickSize": -5, "labels": false}},
   "y": {"datum": 3947, "type": "quantitative", "axis": {"orient": "right", "values": [2250, 6750], "tickSize": -5, "labels": false}}, "text": {"field": "ev"}}},
 {"data": {"name": "labels"}, "transform": [{"filter": {"field": "s", "equal": "[Ni,Lu]"}}], "mark": {"type": "text", "text": "λ", "align": "left", "baseline": "alphabetic", "fontSize": 27},
  "encoding": {"x": {"datum": 660.4, "type": "quantitative", "axis": null}, "y": {"datum": 6394, "type": "quantitative", "axis": null}}},
 {"data": {"name": "labels"}, "transform": [{"filter": {"field": "s", "equal": "[Ni,Lu]"}}], "mark": {"type": "text", "text": "max", "align": "left", "baseline": "alphabetic", "fontSize": 17},
  "encoding": {"x": {"datum": 671.8, "type": "quantitative", "axis": null}, "y": {"datum": 6013, "type": "quantitative", "axis": null}}},
 {"data": {"name": "labels"}, "transform": [{"filter": {"field": "s", "equal": "[Ni,Lu]"}}], "mark": {"type": "text", "text": "λ", "align": "left", "baseline": "alphabetic", "fontSize": 32, "fontWeight": "bold", "fontStyle": "italic"},
  "encoding": {"x": {"datum": 458.4, "type": "quantitative", "axis": null}, "y": {"datum": -5847, "type": "quantitative", "axis": null}}},
 {"data": {"name": "labels"}, "transform": [{"filter": {"field": "s", "equal": "[Ni,Lu]"}}], "mark": {"type": "text", "text": "/", "align": "left", "baseline": "alphabetic", "fontSize": 32},
  "encoding": {"x": {"datum": 484.9, "type": "quantitative", "axis": null}, "y": {"datum": -5847, "type": "quantitative", "axis": null}}},
 {"data": {"name": "labels"}, "transform": [{"filter": {"field": "s", "equal": "[Ni,Lu]"}}], "mark": {"type": "text", "text": "nm", "align": "left", "baseline": "alphabetic", "fontSize": 33},
  "encoding": {"x": {"datum": 505.3, "type": "quantitative", "axis": null}, "y": {"datum": -5847, "type": "quantitative", "axis": null}}}
]}
]
}
